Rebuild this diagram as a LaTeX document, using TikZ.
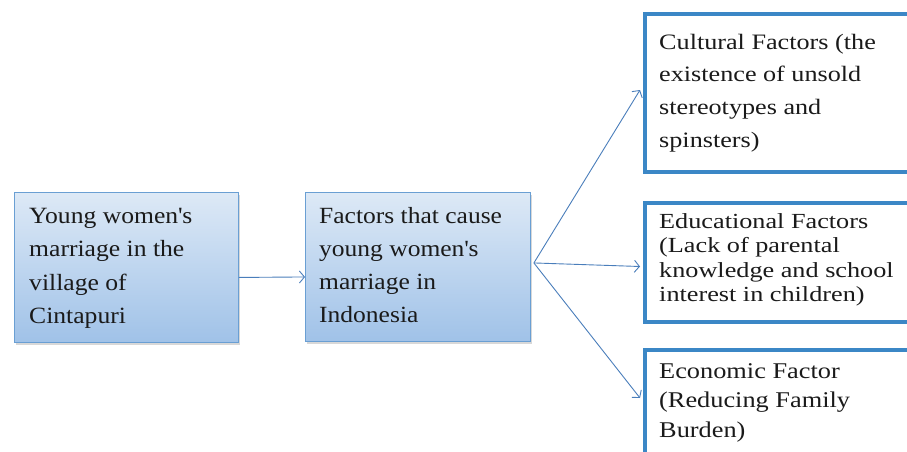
\documentclass[tikz,border=0pt]{standalone}
\usepackage{fontspec}
\setmainfont[FakeStretch=1.1]{Liberation Serif}
\usetikzlibrary{arrows.meta,shadows}
\definecolor{gtop}{HTML}{DDE9F6}
\definecolor{gbot}{HTML}{A0C2E8}
\definecolor{gborder}{HTML}{6A9FD3}
\definecolor{fborder}{HTML}{3B87C6}
\definecolor{arr}{HTML}{4A7EBB}
\definecolor{ink}{HTML}{1A1A1A}
\newcommand{\sq}{\textquotesingle}
\tikzset{
  gradbox/.style={draw=gborder, line width=0.9pt, top color=gtop, bottom color=gbot,
    drop shadow={opacity=0.3, shadow xshift=2pt, shadow yshift=-2.5pt},
    minimum width=224pt, minimum height=150pt, anchor=north west, inner sep=0pt},
  factbox/.style={draw=fborder, line width=4pt, fill=white, anchor=north west,
    minimum width=300pt, inner sep=0pt},
  txt/.style={anchor=base west, inner sep=0pt, text=ink},
  conn/.style={draw=arr, line width=0.9pt, -{Straight Barb[length=5pt,width=12pt,line width=0.9pt]}}
}
\begin{document}
\begin{tikzpicture}[x=1pt,y=-1pt]
\useasboundingbox (0,0) rectangle (907,452);
\begin{scope}
\clip (0,0) rectangle (907,452);
\fill[white] (0,0) rectangle (907,452);
% boxes
\node[gradbox] (A) at (14,192) {};
\node[gradbox, minimum width=225pt, minimum height=149pt] (B) at (305,192) {};
\node[factbox, minimum height=158pt] (C) at (643,12) {};
\node[factbox, minimum height=119pt] (E) at (643,201) {};
\node[factbox, minimum height=120pt] (F) at (643,348) {};
% texts
\node[txt] (tA) at (29,223) {\parbox[t]{210pt}{\fontsize{23.3}{33.5}\selectfont Young women\sq s\\ marriage in the\\ village of\\ Cintapuri}};
\node[txt] (tB) at (319,223) {\parbox[t]{210pt}{\fontsize{23.2}{33}\selectfont Factors that cause\\ young women\sq s\\ marriage in\\ Indonesia}};
\node[txt] (tC) at (659,49) {\parbox[t]{245pt}{\addfontfeatures{FakeStretch=1.19}\fontsize{22}{32.7}\selectfont Cultural Factors (the\\ existence of unsold\\ stereotypes and\\ spinsters)}};
\node[txt] (tE) at (659,228) {\parbox[t]{245pt}{\addfontfeatures{FakeStretch=1.22}\fontsize{21.5}{24.5}\selectfont Educational Factors\\ (Lack of parental\\ knowledge and school\\ interest in children)}};
\node[txt] (tF) at (659,378) {\parbox[t]{245pt}{\addfontfeatures{FakeStretch=1.17}\fontsize{22.5}{29.5}\selectfont Economic Factor\\ (Reducing Family\\ Burden)}};
% connectors
\draw[conn] ([yshift=-10pt]A.east) -- ([yshift=-10pt]B.west);
\coordinate (j) at ([xshift=3pt,yshift=4pt]B.east);
\draw[conn] (j) -- ([xshift=-3pt,yshift=3pt]C.west);
\draw[conn] (j) -- ([xshift=-3pt,yshift=-4pt]E.west);
\draw[conn] (j) -- ([xshift=-3pt,yshift=12pt]F.west);
\end{scope}
\end{tikzpicture}
\end{document}
